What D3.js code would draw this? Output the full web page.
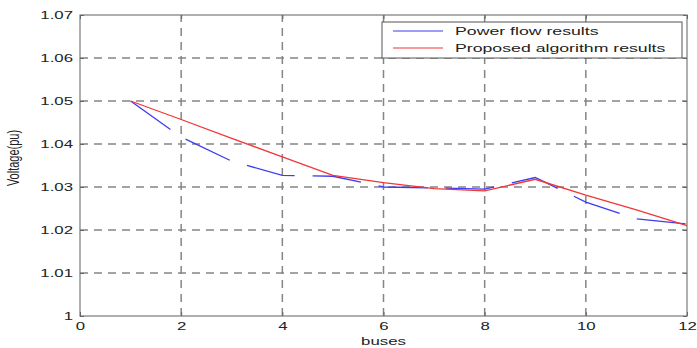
<!DOCTYPE html>
<html>
<head>
<meta charset="utf-8">
<script src="https://cdn.jsdelivr.net/npm/d3@7"></script>
<style>
  body { margin: 0; background: #fff; }
  text { font-family: "Liberation Sans", Arial, sans-serif; fill: #222; }
</style>
</head>
<body>
<div id="chart"></div>
<script>
// data
var buses = [1, 2, 3, 4, 5, 6, 7, 8, 9, 10, 11, 12]
var powerFlow = [1.0500, 1.0416, 1.0360, 1.0327, 1.0325, 1.0300, 1.0298, 1.0295, 1.0322, 1.0265, 1.0226, 1.0214]
var proposed = [1.0500, 1.0457, 1.0413, 1.0370, 1.0327, 1.0310, 1.0296, 1.0291, 1.0318, 1.0281, 1.0247, 1.0210]
var xTicks = [0, 2, 4, 6, 8, 10, 12]
var yTicks = [1, 1.01, 1.02, 1.03, 1.04, 1.05, 1.06, 1.07]
var seriesNames = ["Power flow results", "Proposed algorithm results"]

var width = 697
var height = 348
var stretch = 1.5   // the picture is stretched sideways, text too

var svg = d3.select("#chart")
  .append("svg")
    .attr("width", width)
    .attr("height", height)

var x = d3.scaleLinear().domain([0, 12]).range([80, 687])
var y = d3.scaleLinear().domain([1, 1.07]).range([316, 15])

// dashed grid
svg.append("g")
  .selectAll("line")
  .data(xTicks.slice(1, -1))
  .enter()
  .append("line")
    .attr("x1", d => x(d)).attr("x2", d => x(d))
    .attr("y1", y(1)).attr("y2", y(1.07))
    .attr("stroke", "#858585")
    .attr("stroke-width", 1.5)
    .attr("stroke-dasharray", "8,6")

svg.append("g")
  .selectAll("line")
  .data(yTicks.slice(1, -1))
  .enter()
  .append("line")
    .attr("x1", x(0)).attr("x2", x(12))
    .attr("y1", d => y(d)).attr("y2", d => y(d))
    .attr("stroke", "#858585")
    .attr("stroke-width", 1.5)
    .attr("stroke-dasharray", "8,6")

// box
svg.append("rect")
  .attr("x", x(0)).attr("y", y(1.07))
  .attr("width", x(12) - x(0)).attr("height", y(1) - y(1.07))
  .attr("fill", "none")
  .attr("stroke", "#7a7a7a")
  .attr("stroke-width", 1.2)

// axes, ticks pointing inside
var xAxis = svg.append("g")
  .attr("transform", "translate(0," + y(1) + ")")
  .call(d3.axisBottom(x).tickValues(xTicks).tickSize(-4).tickFormat(d3.format("d")))
var yAxis = svg.append("g")
  .attr("transform", "translate(" + x(0) + ",0)")
  .call(d3.axisLeft(y).tickValues(yTicks).tickSize(-4).tickFormat(d => d === 1 ? "1" : d3.format(".2f")(d)))

// right and top tick marks
svg.append("g")
  .attr("transform", "translate(" + x(12) + ",0)")
  .call(d3.axisRight(y).tickValues(yTicks).tickSize(-4).tickFormat(""))
svg.append("g")
  .attr("transform", "translate(0," + y(1.07) + ")")
  .call(d3.axisTop(x).tickValues(xTicks).tickSize(-4).tickFormat(""))

svg.selectAll(".domain").remove()
svg.selectAll(".tick line").attr("stroke", "#666")

xAxis.selectAll("text")
  .attr("font-size", 11.2)
  .attr("fill", "#222")
  .attr("y", 0)
  .attr("dy", 0)
  .attr("transform", "translate(0,14) scale(" + stretch + ",1)")
yAxis.selectAll("text")
  .attr("font-size", 11.2)
  .attr("fill", "#222")
  .attr("x", 0)
  .attr("dy", "0.35em")
  .attr("transform", "translate(-7,0) scale(" + stretch + ",1)")

// axis titles
svg.append("text")
  .attr("font-size", 11.2)
  .attr("text-anchor", "middle")
  .attr("transform", "translate(" + ((x(0) + x(12)) / 2) + ",345) scale(" + stretch + ",1)")
  .text("buses")

svg.append("text")
  .attr("font-size", 11)
  .attr("text-anchor", "middle")
  .attr("transform", "translate(19,158) scale(" + stretch + ",1) rotate(-90)")
  .text("Voltage(pu)")

// lines
var line = d3.line()
  .x((d, i) => x(buses[i]))
  .y(d => y(d))

svg.append("path")
  .datum(powerFlow)
  .attr("d", line)
  .attr("fill", "none")
  .attr("stroke", "#3c3cf2")
  .attr("stroke-width", 1.3)
  .attr("stroke-dasharray", "49,18")

svg.append("path")
  .datum(proposed)
  .attr("d", line)
  .attr("fill", "none")
  .attr("stroke", "#f23636")
  .attr("stroke-width", 1.3)

// legend
var legend = svg.append("g")
legend.append("rect")
  .attr("x", 382).attr("y", 22)
  .attr("width", 300).attr("height", 36)
  .attr("fill", "#fff")
  .attr("stroke", "#555")
  .attr("stroke-width", 1)

var colors = ["#3c3cf2", "#f23636"]
seriesNames.forEach(function(name, i) {
  var ly = 31 + i * 17
  legend.append("line")
    .attr("x1", 393).attr("x2", 443)
    .attr("y1", ly).attr("y2", ly)
    .attr("stroke", colors[i])
    .attr("stroke-width", 1.2)
  legend.append("text")
    .attr("font-size", 11.8)
    .attr("dy", "0.35em")
    .attr("transform", "translate(455," + ly + ") scale(" + stretch + ",1)")
    .text(name)
})
</script>
</body>
</html>
